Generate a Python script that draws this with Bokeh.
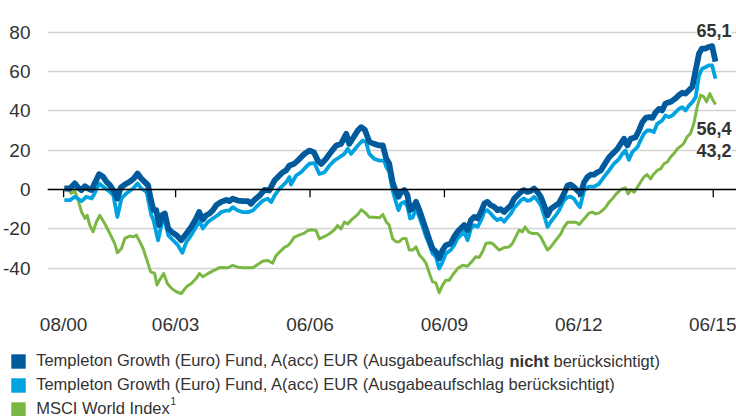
from bokeh.plotting import figure
from bokeh.layouts import column
from bokeh.models import Range1d, FixedTicker, Span, Label, Legend, LegendItem
from bokeh.embed import file_html
from bokeh.resources import INLINE

# ---------------- data (months index, cumulative performance in %) ----------------
x_ticks = [12, 42, 78, 114, 150, 186]
x_tick_labels = ["08/00", "06/03", "06/06", "06/09", "06/12", "06/15"]
y_ticks = [-40, -20, 0, 20, 40, 60, 80]
y_tick_labels = ["-40", "-20", "0", "20", "40", "60", "80"]

series_names = [
    "Templeton Growth (Euro) Fund, A(acc) EUR (Ausgabeaufschlag nicht berücksichtigt)",
    "Templeton Growth (Euro) Fund, A(acc) EUR (Ausgabeaufschlag berücksichtigt)",
    "MSCI World Index",
]
end_labels = ["65,1", "56,4", "43,2"]

fund_x = [12.2, 13.7, 15.0, 15.9, 16.8, 17.7, 18.6, 19.5, 20.3, 21.5, 22.6, 23.5, 24.4, 25.3, 26.4, 27.3,
          28.4, 29.7, 30.8, 31.8, 32.8, 33.7, 34.6, 35.5, 36.1, 36.8, 37.6, 38.4, 39.1, 40.0, 40.9, 42.2,
          43.5, 44.9, 46.2, 47.5, 48.3, 49.3, 50.2, 51.1, 52.0, 52.9, 54.2, 55.6, 56.4, 57.3, 58.7, 60.0,
          61.4, 62.2, 63.1, 64.5, 65.8, 67.1, 68.5, 69.8, 70.7, 71.6, 72.5, 73.8, 75.2, 76.5, 77.8, 79.0,
          80.1, 81.0, 82.3, 83.6, 85.0, 86.3, 87.7, 88.5, 89.4, 90.8, 91.7, 92.7, 93.9, 95.2, 96.6, 97.5,
          98.4, 99.2, 100.1, 101.0, 101.7, 102.4, 103.3, 104.1, 104.8, 105.5, 106.4, 107.3, 108.2, 109.1,
          110.0, 110.8, 111.7, 112.6, 113.5, 114.4, 115.7, 116.6, 117.5, 118.4, 119.3, 120.2, 121.1, 122.0,
          122.9, 123.8, 124.7, 125.5, 126.4, 127.3, 128.2, 129.1, 130.0, 130.9, 131.8, 132.7, 133.6, 134.5,
          135.3, 136.2, 137.1, 138.0, 138.9, 139.8, 140.7, 141.6, 142.5, 143.8, 144.7, 146.0, 147.0, 147.8,
          148.7, 149.6, 150.5, 151.4, 152.3, 153.2, 154.1, 155.0, 155.9, 156.7, 158.1, 159.4, 160.3, 161.2,
          162.1, 163.0, 163.9, 165.2, 166.1, 167.0, 167.9, 168.8, 169.7, 170.6, 171.5, 172.3, 173.2, 174.6,
          175.9, 176.8, 177.7, 178.6, 179.5, 180.4, 181.3, 182.2, 183.0, 183.9, 184.8, 185.7, 186.6]
fund_y = [0.5, 0.5, 3.1, 1.0, -0.3, 1.7, 0.5, -0.3, 3.1, 7.8, 6.4, 3.9, 2.2, -0.3, -4.6, 1.0,
          2.5, 3.9, 5.6, 8.1, 5.6, 3.9, 2.2, -6.3, -10.5, -10.5, -18.1, -13.1, -12.2, -19.8, -21.5, -23.2,
          -25.8, -22.4, -19.0, -14.7, -11.4, -15.3, -13.1, -12.2, -10.5, -8.0, -6.3, -5.3, -5.9, -4.7, -5.6, -5.9,
          -5.9, -7.3, -5.3, -3.1, -0.2, -0.5, 4.6, 7.1, 8.8, 9.7, 12.2, 13.1, 15.6, 18.1, 19.8, 19.0,
          14.7, 13.0, 15.6, 19.0, 22.4, 23.2, 28.3, 23.2, 25.8, 30.0, 31.7, 30.3, 24.1, 23.2, 22.4, 22.4,
          15.8, 13.2, 3.9, -1.2, -3.7, -1.2, -0.3, -2.9, -10.5, -9.7, -6.3, -10.5, -15.6, -20.7,
          -25.8, -30.0, -31.7, -35.0, -30.8, -28.3, -27.5, -24.1, -21.5, -19.8, -18.1, -20.7, -15.6, -13.9,
          -14.7, -11.4, -7.1, -6.3, -8.0, -8.8, -10.5, -10.0, -11.4, -9.7, -8.0, -4.6, -2.9, -1.2,
          -0.3, -1.2, -0.7, 0.5, -1.2, -3.7, -8.0, -13.1, -9.8, -8.1, -6.9, -2.2, 2.0, 2.5,
          1.2, -0.5, -2.2, 3.7, 6.3, 7.6, 7.6, 8.8, 9.7, 12.2, 16.4, 18.9, 20.6, 23.2,
          25.8, 22.4, 25.8, 26.6, 30.0, 34.2, 36.4, 36.8, 36.4, 39.3, 41.0, 40.2, 43.7, 44.6,
          46.3, 48.0, 49.2, 48.8, 50.5, 52.2, 60.7, 69.2, 71.7, 71.7, 72.5, 72.9, 65.1]

fee_x = [12.2, 13.7, 15.0, 16.8, 18.1, 19.5, 20.3, 21.5, 22.6, 24.4, 25.3, 26.4, 27.5, 28.8, 30.6, 31.8,
         32.8, 34.2, 35.5, 36.1, 37.3, 38.4, 39.1, 40.0, 41.3, 42.6, 43.8, 44.9, 46.2, 47.5, 48.4, 49.3,
         50.7, 52.0, 53.3, 54.2, 55.6, 56.4, 57.3, 58.7, 60.0, 61.4, 62.7, 64.0, 65.4, 66.7, 67.6, 68.5,
         69.8, 70.7, 71.6, 72.5, 72.9, 74.3, 75.6, 76.9, 77.8, 79.2, 80.5, 81.9, 83.2, 84.5, 85.9, 87.2,
         88.1, 89.0, 89.9, 91.2, 92.1, 93.0, 93.9, 95.2, 96.6, 97.9, 98.4, 99.2, 100.1, 101.0, 101.7, 102.4,
         103.3, 104.1, 104.8, 105.5, 106.4, 107.3, 108.2, 109.1, 110.0, 110.8, 111.7, 112.6, 113.5, 114.4,
         115.7, 116.6, 117.5, 118.4, 119.3, 120.2, 121.1, 122.0, 122.9, 123.8, 124.7, 125.5, 126.4, 127.3,
         128.2, 129.1, 130.0, 130.9, 131.8, 132.7, 133.6, 134.5, 135.3, 136.2, 137.1, 138.0, 138.9, 139.8,
         140.7, 141.6, 142.5, 143.8, 144.7, 146.0, 147.0, 147.8, 148.7, 149.6, 150.3, 151.4, 152.7, 154.1,
         155.4, 156.7, 158.1, 159.4, 160.8, 161.6, 162.5, 163.4, 164.3, 165.7, 166.5, 167.4, 168.3, 169.2,
         170.1, 171.0, 172.3, 173.2, 174.1, 175.0, 175.9, 176.8, 177.7, 178.6, 179.5, 180.4, 181.3, 182.2,
         183.0, 183.9, 184.8, 185.7, 186.6]
fee_y = [-5.4, -5.4, -3.7, -5.9, -3.7, -4.6, -2.0, 3.1, 1.4, -1.2, -2.9, -13.9, -4.6, -2.0, 0.5, 3.1,
         0.5, -1.2, -13.1, -15.8, -25.8, -16.4, -15.6, -23.2, -25.8, -28.3, -32.2, -26.6, -23.2, -19.0, -15.9, -19.8,
         -16.4, -14.7, -13.1, -11.5, -10.7, -10.7, -9.0, -10.7, -11.5, -11.5, -10.7, -8.1, -5.6, -4.7, -6.4, -3.1,
         0.3, 2.0, 3.7, 6.3, 2.5, 7.1, 8.8, 11.4, 13.1, 13.4, 7.9, 8.8, 12.2, 14.7, 16.4, 18.1,
         20.7, 18.1, 20.2, 23.2, 24.9, 24.1, 18.1, 15.6, 14.7, 14.7, 11.5, 9.0, -0.3, -6.3, -10.5, -7.1,
         -6.3, -8.8, -14.7, -14.2, -9.7, -14.2, -19.0, -24.1, -28.3, -32.5, -34.2, -40.2, -36.8, -32.5,
         -30.8, -28.3, -24.9, -23.2, -21.5, -25.8, -19.8, -18.1, -19.0, -15.6, -11.4, -10.5, -12.2, -14.2,
         -15.6, -14.7, -16.4, -14.2, -12.2, -9.2, -7.5, -5.4, -4.6, -5.8, -5.4, -3.7, -5.4, -8.0,
         -13.1, -19.0, -16.4, -13.2, -10.7, -5.6, -3.9, -3.6, -4.7, -7.3, -9.0, -0.5, 1.5, 1.5,
         2.9, 6.3, 9.7, 13.1, 15.6, 18.1, 19.8, 15.1, 19.0, 21.5, 24.9, 28.3, 30.0, 30.0,
         29.2, 33.4, 35.1, 37.6, 36.8, 37.6, 39.3, 41.0, 41.9, 40.2, 42.7, 44.4, 47.0, 58.0,
         61.4, 62.2, 63.1, 63.1, 56.4]

msci_x = [12.2, 13.2, 14.1, 15.0, 15.9, 16.8, 17.7, 18.3, 19.0, 19.9, 20.8, 21.7, 23.0, 24.4, 25.7, 26.4,
          27.5, 28.4, 29.7, 30.8, 31.5, 32.2, 33.3, 34.3, 35.3, 36.4, 37.0, 37.7, 38.8, 39.8, 40.9, 42.2,
          43.5, 44.9, 46.2, 47.5, 48.4, 49.3, 50.7, 52.0, 53.8, 56.0, 57.3, 58.7, 60.0, 61.4, 62.7, 64.0,
          65.4, 66.7, 68.0, 68.9, 70.3, 71.2, 72.1, 72.9, 73.8, 75.2, 76.5, 77.4, 78.5, 79.6, 80.5, 81.9,
          83.2, 84.5, 85.4, 86.3, 87.2, 88.1, 89.4, 90.8, 91.7, 92.6, 93.9, 95.2, 96.6, 97.5, 98.4, 99.2,
          100.1, 101.0, 101.9, 102.8, 103.7, 104.6, 105.5, 106.4, 107.3, 108.2, 109.1, 110.0, 110.8, 111.7,
          112.6, 113.5, 114.4, 115.3, 116.2, 117.5, 118.9, 120.2, 121.5, 122.4, 123.3, 124.2, 125.1, 126.0,
          126.9, 127.8, 128.7, 130.0, 131.3, 132.2, 133.1, 134.0, 134.9, 135.6, 136.5, 137.6, 138.9, 139.8,
          140.7, 141.6, 142.5, 143.8, 145.2, 146.0, 147.0, 147.8, 149.2, 150.1, 151.0, 151.8, 152.7, 153.6,
          154.5, 155.4, 156.3, 157.2, 158.1, 159.0, 159.9, 160.8, 161.6, 162.5, 163.2, 163.9, 164.8, 165.7,
          166.5, 167.4, 168.3, 169.2, 170.1, 171.0, 171.9, 172.8, 173.7, 174.6, 175.5, 176.4, 177.3, 178.1,
          179.0, 179.9, 180.8, 181.7, 182.6, 183.5, 184.2, 185.1, 185.7, 186.6]
msci_y = [0.5, 0.0, -2.0, -0.7, -5.4, -11.4, -14.7, -13.1, -18.1, -21.5, -16.4, -13.1, -17.3, -22.4, -27.5, -32.2,
          -30.0, -24.9, -23.7, -24.1, -23.2, -25.8, -30.0, -35.9, -41.9, -42.7, -48.6, -46.1, -42.7, -47.8, -50.3, -52.0,
          -52.9, -49.5, -47.8, -45.3, -42.7, -44.4, -42.7, -41.4, -39.7, -39.8, -38.6, -39.5, -39.8, -39.8, -39.8, -38.1,
          -36.4, -36.1, -37.5, -33.6, -31.0, -29.3, -28.5, -26.8, -24.2, -23.1, -22.2, -20.8, -20.5, -20.8, -25.1, -23.9,
          -22.5, -20.5, -18.3, -20.0, -16.6, -17.5, -14.9, -12.7, -10.3, -11.5, -14.1, -14.1, -14.4, -12.7, -16.4, -18.1,
          -24.9, -26.6, -26.6, -24.9, -24.9, -30.8, -30.8, -29.2, -33.4, -35.1, -37.6, -42.7, -46.9, -47.5,
          -52.5, -48.6, -46.1, -46.1, -43.5, -40.2, -38.5, -39.0, -36.3, -34.2, -34.6, -31.7, -27.5, -27.1,
          -27.5, -29.2, -30.8, -29.5, -29.2, -27.5, -24.1, -20.7, -21.5, -19.0, -21.5, -22.4, -22.4, -24.1,
          -27.5, -30.8, -29.2, -25.9, -22.5, -19.2, -16.6, -16.6, -16.6, -17.8, -15.8, -14.1, -12.0, -11.5,
          -12.4, -12.0, -10.7, -9.0, -6.4, -4.7, -2.5, -0.8, 0.3, 0.8, -2.2, -0.2, -1.4, 1.2,
          3.7, 6.3, 7.6, 5.4, 7.9, 9.7, 10.5, 13.1, 14.0, 16.6, 18.3, 20.8, 22.0, 23.4,
          26.8, 28.5, 33.6, 42.0, 48.0, 47.1, 44.6, 48.8, 46.3, 43.2]

# ---------------- styling ----------------
FONT = "Liberation Sans"
TEXT = "#333333"
C_FUND = "#005a9c"
C_FEE = "#00a3e0"
C_MSCI = "#7ab843"

# ---------------- main chart ----------------
p = figure(width=736, height=340, output_backend="svg", toolbar_location=None,
           x_range=Range1d(7.687, 192.23), y_range=Range1d(-56.46, 96.13),
           min_border_left=46, min_border_right=0, min_border_top=0, min_border_bottom=40)
p.frame_align = False
p.outline_line_color = None
p.background_fill_color = "white"
p.border_fill_color = "white"

p.xgrid.visible = False
p.ygrid.ticker = FixedTicker(ticks=y_ticks)
p.ygrid.grid_line_color = "#d2d2d2"
p.ygrid.grid_line_width = 1.5

p.yaxis.ticker = FixedTicker(ticks=y_ticks)
p.yaxis.major_label_overrides = {t: s for t, s in zip(y_ticks, y_tick_labels)}
p.yaxis.axis_line_color = None
p.yaxis.major_tick_line_color = None
p.yaxis.minor_tick_line_color = None
p.yaxis.major_label_standoff = 11
p.yaxis.major_label_text_font = FONT
p.yaxis.major_label_text_font_size = "19px"
p.yaxis.major_label_text_color = TEXT

p.xaxis.ticker = FixedTicker(ticks=x_ticks)
p.xaxis.major_label_overrides = {t: s for t, s in zip(x_ticks, x_tick_labels)}
p.xaxis.axis_line_color = None
p.xaxis.major_tick_line_color = None
p.xaxis.minor_tick_line_color = None
p.xaxis.major_label_standoff = 7
p.xaxis.major_label_text_font = FONT
p.xaxis.major_label_text_font_size = "19px"
p.xaxis.major_label_text_color = TEXT

# zero line with hanging ticks
p.add_layout(Span(location=0, dimension="width", line_color="black", line_width=1.3))
p.segment(x0=x_ticks, y0=[0] * len(x_ticks), x1=x_ticks, y1=[-4] * len(x_ticks),
          line_color="black", line_width=1.3)

# series
p.line(msci_x, msci_y, line_color=C_MSCI, line_width=3, line_join="round")
p.line(fee_x, fee_y, line_color=C_FEE, line_width=3.8, line_join="round")
p.line(fund_x, fund_y, line_color=C_FUND, line_width=5.8, line_join="round")

# end value labels
for yv, txt in zip([80.9, 30.8, 19.8], end_labels):
    p.add_layout(Label(x=190.89, y=yv, text=txt, text_align="right", text_baseline="middle",
                       text_font=FONT, text_font_size="18px", text_font_style="bold",
                       text_color=TEXT, background_fill_color="white"))

# ---------------- legend strip ----------------
lg = figure(width=736, height=76, output_backend="svg", toolbar_location=None,
            x_range=Range1d(0, 1), y_range=Range1d(0, 1),
            x_axis_location=None, y_axis_location=None,
            min_border_left=0, min_border_right=0, min_border_top=0, min_border_bottom=0)
lg.frame_align = False
lg.outline_line_color = None
lg.xgrid.visible = False
lg.ygrid.visible = False

# key squares (their own glyphs lie outside the strip's visible range)
keys = [lg.quad(left=[5], right=[6], top=[6], bottom=[5], fill_color=c, line_color=None)
        for c in (C_FUND, C_FEE, C_MSCI)]
first = series_names[0].split(" nicht ")[0]
legend = Legend(items=[LegendItem(label=first, renderers=[keys[0]]),
                       LegendItem(label=series_names[1], renderers=[keys[1]]),
                       LegendItem(label=series_names[2], renderers=[keys[2]])],
                location=(9.2, -4.5), orientation="vertical",
                glyph_width=18, glyph_height=18, label_height=24, spacing=0,
                padding=0, margin=0, label_standoff=9,
                border_line_color=None, background_fill_alpha=0,
                label_text_font=FONT, label_text_font_size="16.5px", label_text_color=TEXT)
lg.add_layout(legend)

lg.add_layout(Label(x=509, y=55.5, x_units="screen", y_units="screen", text="nicht",
                    text_baseline="middle", text_font=FONT, text_font_size="16.5px",
                    text_font_style="bold", text_color=TEXT))
lg.add_layout(Label(x=553, y=55.5, x_units="screen", y_units="screen", text="berücksichtigt)",
                    text_baseline="middle", text_font=FONT, text_font_size="16.5px", text_color=TEXT))
lg.add_layout(Label(x=170, y=16, x_units="screen", y_units="screen", text="1",
                    text_baseline="middle", text_font=FONT, text_font_size="10px", text_color=TEXT))

page = column(p, lg, spacing=0)
open("out.html", "w").write(file_html(page, INLINE))
